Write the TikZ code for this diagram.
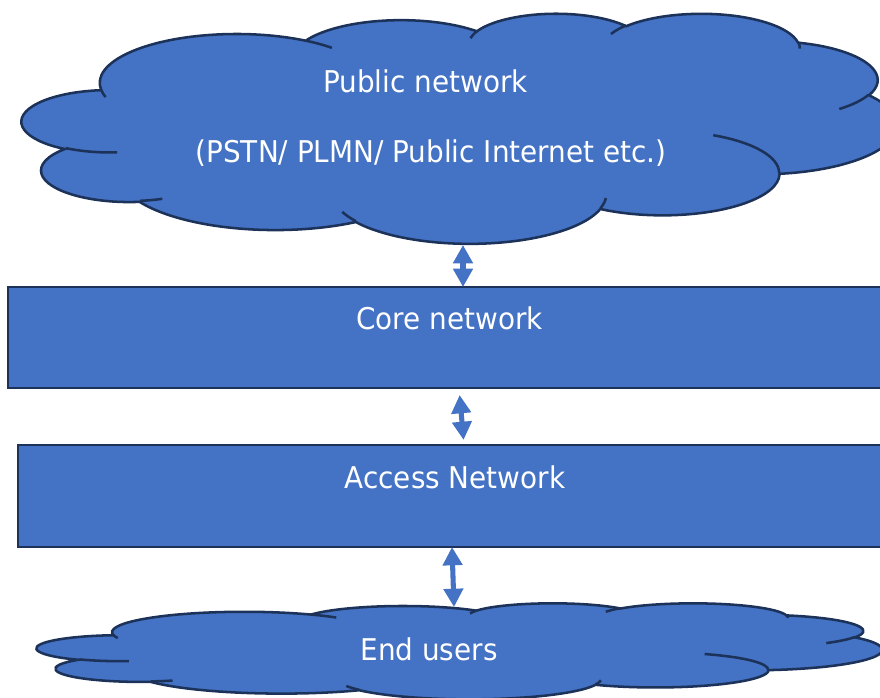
\documentclass[tikz,border=0pt]{standalone}
\usepackage{fontspec}
\setmainfont{DejaVu Sans}[FakeStretch=0.93]
\usepackage{xcolor}
\usetikzlibrary{arrows.meta}
\definecolor{netblue}{HTML}{4472C4}
\definecolor{netedge}{HTML}{1C3259}

% one bump of the cloud: x radius, y radius, start and sweep as seen on screen
\newcommand\cldarc[4]{arc[start angle={atan2(#1*sin(#3),#2*cos(#3))},
  delta angle={mod(atan2(#1*sin(#3+#4),#2*cos(#3+#4))-atan2(#1*sin(#3),#2*cos(#3))+720,360)},
  x radius=#1, y radius=#2]}
% cloud in a box: left, top, width, height (px)
\newcommand\netcloud[4]{%
  \begin{scope}[shift={(#1,#2)}, xscale=#3/100, yscale=#4/100]
    \path[cloudbody] (9.028,33.264)
      \cldarc{15.632}{21.273}{-190.487}{123.781}
      \cldarc{12.345}{16.822}{-144.102}{89.945}
      \cldarc{10.104}{13.762}{-145.808}{99.723}
      \cldarc{11.243}{15.266}{-130.986}{117.242}
      \cldarc{12.345}{16.836}{-78.709}{109.027}
      \cldarc{15.683}{21.343}{-46.267}{130.269}
      \cldarc{13.391}{18.211}{0.625}{114.033}
      \cldarc{15.630}{21.331}{22.452}{115.173}
      \cldarc{17.870}{24.405}{66.243}{75.711}
      \cldarc{10.093}{13.699}{-274.942}{146.736}
      \cldarc{10.058}{13.762}{-246.829}{152.519} -- cycle;
    \draw[cloudrim]
      (10.863,60.595) \cldarc{10.058}{13.762}{86.742}{26.430}
      (16.037,80.785) \cldarc{10.093}{13.699}{73.610}{11.447}
      (38.144,90.486) \cldarc{15.630}{21.331}{137.624}{14.081}
      (66.729,80.442) \cldarc{15.630}{21.331}{6.453}{15.998}
      (79.002,53.134) \cldarc{13.391}{18.211}{-70.292}{70.917}
      (96.755,35.542) \cldarc{12.345}{16.836}{30.318}{27.752}
      (88.713,12.560) \cldarc{11.243}{15.266}{-13.744}{14.859}
      (67.310,9.148)  \cldarc{11.243}{15.266}{-149.181}{18.195}
      (51.252,10.926) \cldarc{10.104}{13.762}{-163.494}{17.686}
      (32.407,12.019) \cldarc{15.632}{21.273}{-66.707}{12.319}
      (9.553,36.549)  \cldarc{15.632}{21.273}{157.654}{11.858};
  \end{scope}}

\begin{document}
\begin{tikzpicture}[
  x=0.025cm, y=-0.025cm,
  font=\fontsize{21.3}{25}\selectfont,
  layer/.style     = {draw=netedge, line width=1.8pt, fill=netblue,
                      inner sep=0pt, outer sep=0pt},
  cloudbody/.style = {draw=netedge, line width=1.8pt, fill=netblue},
  cloudrim/.style  = {draw=netedge, line width=1.8pt},
  lbl/.style       = {text=white, anchor=base, inner sep=0pt},
  arr/.style       = {{Triangle[length=13pt,width=13.5pt]}-{Triangle[length=13pt,width=13.5pt]},
                      line width=3.6pt, draw=netblue}
]
\useasboundingbox (0,0) rectangle (880,697);
\clip (0,0) rectangle (880,697);
%% Clouds
\netcloud{22}{13}{875}{230}
\netcloud{37}{603}{845}{96}
%% Layers
\node[layer, minimum width=22.3cm,  minimum height=2.525cm] (core)   at (454,337.5) {};
\node[layer, minimum width=22.05cm, minimum height=2.55cm]  (access) at (459,496) {};
%% Labels
\node[lbl] (pub-t)    at (425.5,92) {Public network};
\node[lbl] (pub-s)    at (431,162)  {(PSTN/ PLMN/ Public Internet etc.)};
\node[lbl] (core-t)   at (449.5,329) {Core network};
\node[lbl] (access-t) at (455,488)  {Access Network};
\node[lbl] (end-t)    at (429,660)  {End users};
%% Links
\coordinate (pub-port) at (463,245);
\coordinate (end-port) at (454,607);
\draw[arr] (pub-port) -- (pub-port |- core.north);
\draw[arr, shorten <=5pt, shorten >=3.6pt]
  ([xshift=0.125cm]core.south) -- ([xshift=0.125cm]access.north);
\draw[arr] ([xshift=-0.175cm]access.south) -- (end-port);
\end{tikzpicture}
\end{document}
